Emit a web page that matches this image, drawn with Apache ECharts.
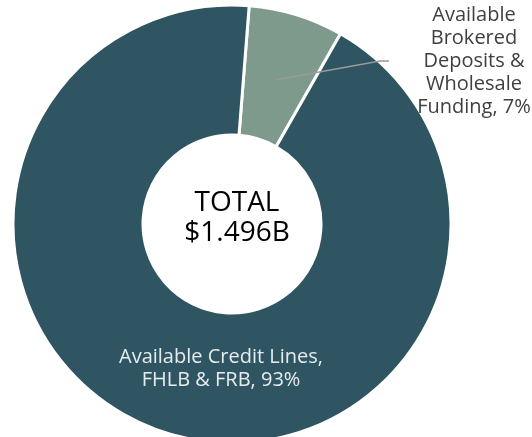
<!DOCTYPE html>
<html>
<head>
<meta charset="utf-8">
<script src="https://cdn.jsdelivr.net/npm/echarts@6/dist/echarts.min.js"></script>
<style>
  html, body { margin: 0; padding: 0; background: #fff; }
  #chart { width: 532px; height: 437px; }
</style>
</head>
<body>
<div id="chart"></div>
<script>
const categories = [
  'Available Credit Lines,\nFHLB & FRB',
  'Available\nBrokered\nDeposits &\nWholesale\nFunding'
]
const shares = [93, 7]
const colors = ['#2f5563', '#7e9a8c']
const totalText = ['TOTAL', '$1.496B']

const center = [232, 224]
const radius = [89, 219]
const leaderRadius = 151
const startAngle = 85.5

const chart = echarts.init(document.getElementById('chart'))

// small slice first clockwise from startAngle, big one after
const order = [1, 0]
const fmt = (p) => p.name + ', ' + p.value + '%'

// ring itself + label of the big slice
const ringData = order.map((i) => ({
  name: categories[i],
  value: shares[i],
  itemStyle: { color: colors[i] },
  label: i === 0
    ? { show: true, position: 'inside', color: '#e6ecee', fontSize: 20, lineHeight: 23, align: 'center' }
    : { show: false },
  labelLine: { show: false }
}))

// invisible overlay that only carries the small slice's label and leader line
const overlayData = order.map((i) => ({
  name: categories[i],
  value: shares[i],
  itemStyle: { color: 'rgba(0,0,0,0)' },
  label: i === 1
    ? { show: true, position: 'outside', color: '#404040', fontSize: 20, lineHeight: 23, align: 'center' }
    : { show: false },
  labelLine: i === 1
    ? { show: true, lineStyle: { color: '#9a9a9a', width: 1.5 } }
    : { show: false }
}))

const option = {
  backgroundColor: '#fff',
  animation: false,
  textStyle: { fontFamily: 'Open Sans' },
  title: {
    text: totalText.join('\n'),
    left: center[0],
    top: center[1] - 11,
    textAlign: 'center',
    textVerticalAlign: 'middle',
    textStyle: {
      fontFamily: 'Open Sans',
      fontSize: 28,
      lineHeight: 30,
      fontWeight: 500,
      color: '#000'
    }
  },
  series: [
    {
      type: 'pie',
      center: center,
      radius: radius,
      startAngle: startAngle,
      clockwise: true,
      silent: true,
      avoidLabelOverlap: false,
      itemStyle: { borderColor: '#fff', borderWidth: 3 },
      label: { formatter: fmt },
      labelLayout: () => ({ x: 221, y: 369, align: 'center', verticalAlign: 'middle' }),
      data: ringData
    },
    {
      type: 'pie',
      z: 5,
      center: center,
      radius: [0, leaderRadius],
      startAngle: startAngle,
      clockwise: true,
      silent: true,
      avoidLabelOverlap: false,
      itemStyle: { borderWidth: 0 },
      label: { formatter: fmt },
      labelLayout: (p) => {
        const lx = 474
        const ly = 61
        const start = p.labelLinePoints ? p.labelLinePoints[0] : [0, 0]
        return {
          x: lx,
          y: ly,
          align: 'center',
          verticalAlign: 'middle',
          labelLinePoints: [start, [lx - 94, ly], [lx - 85, ly]]
        }
      },
      data: overlayData
    }
  ]
}

chart.setOption(option)
</script>
</body>
</html>
